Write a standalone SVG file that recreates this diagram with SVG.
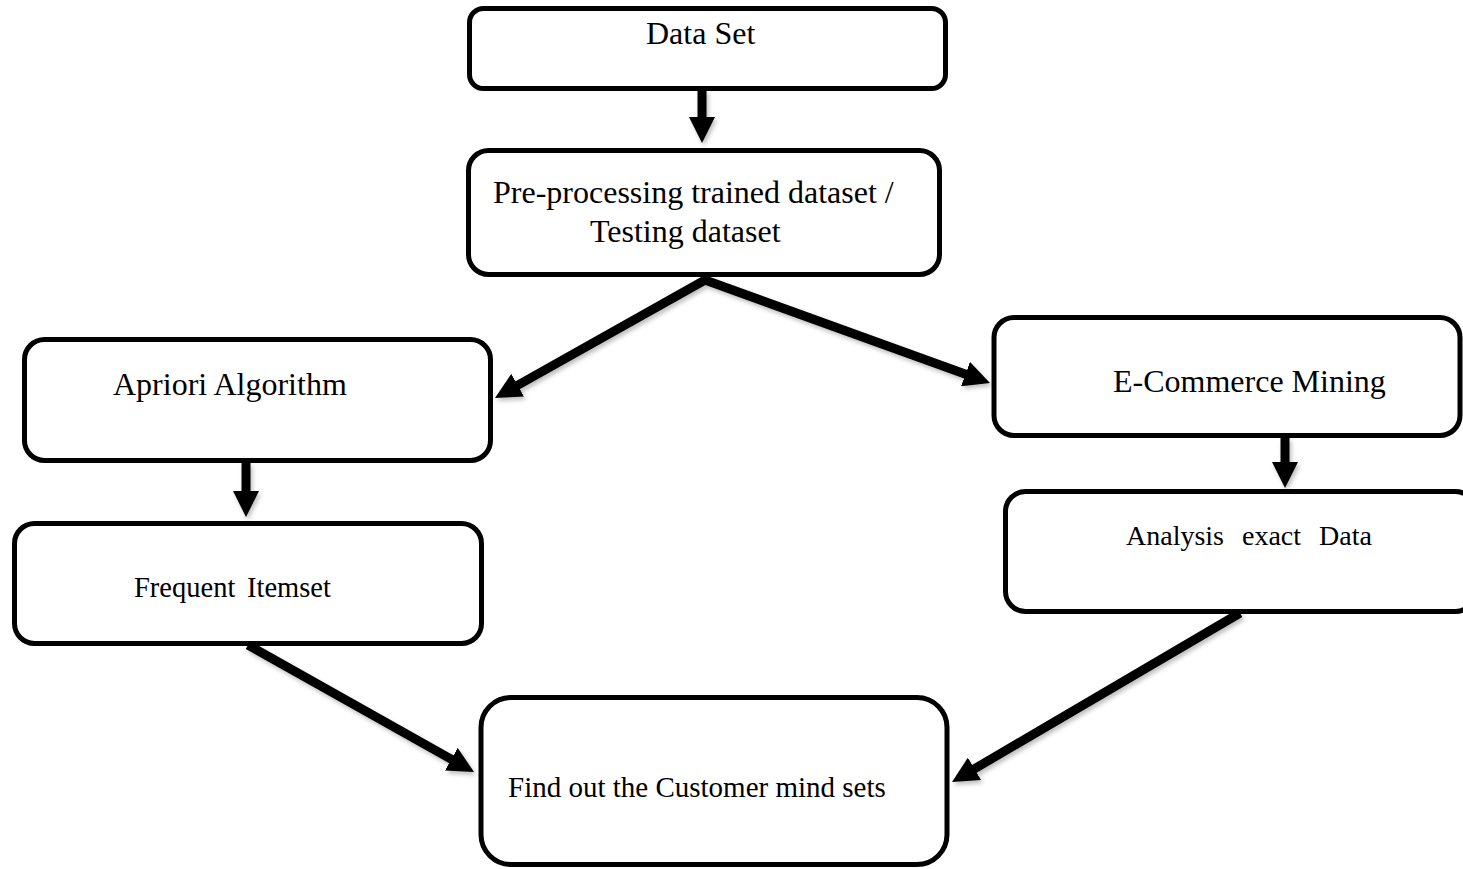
<svg xmlns="http://www.w3.org/2000/svg" width="1463" height="869" viewBox="0 0 1463 869">
<style>
.box{fill:#fff;stroke:#000;stroke-width:5}
.t{font-family:"Liberation Serif","Times New Roman",serif;fill:#000}
.c{fill:none;stroke:#000;stroke-width:9;marker-end:url(#ah)}
</style>
<defs>
<marker id="ah" markerUnits="userSpaceOnUse" markerWidth="26" markerHeight="26" refX="12" refY="13" orient="auto-start-reverse" viewBox="0 0 26 26">
<path d="M0,0 L26,13 L0,26 z" fill="#000"/>
</marker>
<filter id="sh" x="-10%" y="-10%" width="130%" height="130%">
<feDropShadow dx="2" dy="3" stdDeviation="2" flood-color="#000" flood-opacity="0.25"/>
</filter>
</defs>
<rect width="1463" height="869" fill="#fff"/>
<g id="connectors" filter="url(#sh)">
<path class="c" d="M702,90 L702,129"/>
<path class="c" d="M507.2,391.1 L705,280 L976.8,378.2" style="marker-start:url(#ah)"/>
<path class="c" d="M246,463 L246,503"/>
<path class="c" d="M1285,438 L1285,474"/>
<path class="c" d="M248,645 L461.8,765.1"/>
<path class="c" d="M1240,613 L964.1,774.9"/>
</g>
<g id="n-dataset">
<rect class="box" x="469.5" y="8.5" width="476" height="80" rx="14"/>
<text class="t" x="646" y="44" font-size="32">Data Set</text>
</g>
<g id="n-preprocessing">
<rect class="box" x="468.5" y="150.5" width="471" height="124" rx="20"/>
<text class="t" x="493" y="203" font-size="32">Pre-processing trained dataset /</text>
<text class="t" x="590" y="242" font-size="32">Testing dataset</text>
</g>
<g id="n-apriori">
<rect class="box" x="24.5" y="339.5" width="466" height="121" rx="20"/>
<text class="t" x="113" y="395" font-size="32">Apriori Algorithm</text>
</g>
<g id="n-frequent">
<rect class="box" x="14.5" y="523.5" width="467" height="120" rx="20"/>
<text class="t" y="597" font-size="28.5"><tspan x="134">Frequent</tspan> <tspan x="247">Itemset</tspan></text>
</g>
<g id="n-ecommerce">
<rect class="box" x="994" y="317.5" width="466" height="118" rx="20"/>
<text class="t" x="1113" y="392" font-size="32">E-Commerce Mining</text>
</g>
<g id="n-analysis">
<rect class="box" x="1005.5" y="491.5" width="470" height="120" rx="20"/>
<text class="t" y="545" font-size="28"><tspan x="1126">Analysis</tspan> <tspan x="1242">exact</tspan> <tspan x="1319">Data</tspan></text>
</g>
<g id="n-findout">
<rect class="box" x="481" y="697.5" width="466" height="167" rx="30"/>
<text class="t" x="508" y="797" font-size="29">Find out the Customer mind sets</text>
</g>
</svg>
